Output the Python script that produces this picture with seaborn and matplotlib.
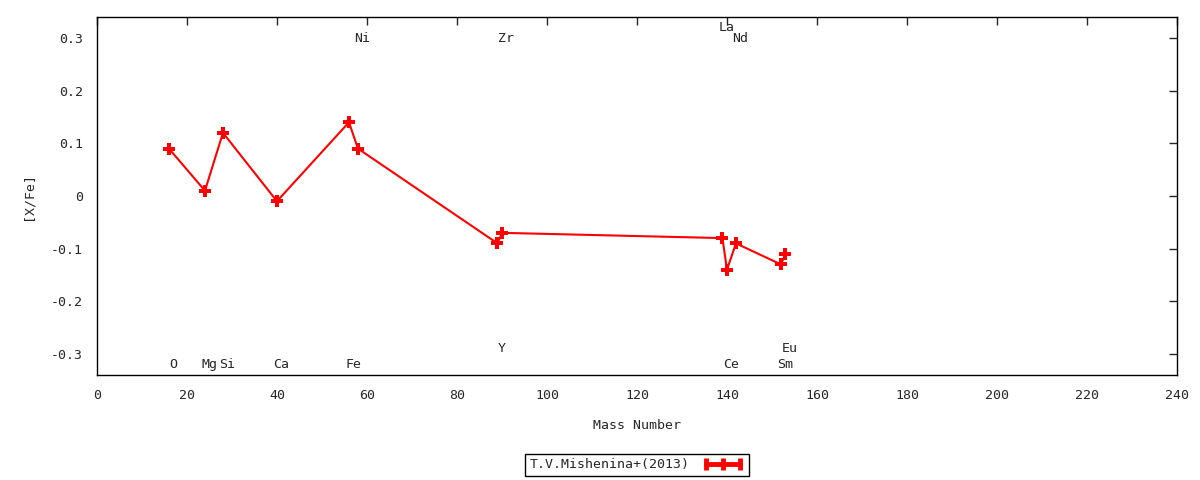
import matplotlib
matplotlib.use("Agg")
import matplotlib.pyplot as plt
from matplotlib.lines import Line2D
import seaborn as sns
import pandas as pd

# abundance data
elements = ["O", "Mg", "Si", "Ca", "Fe", "Ni", "Y", "Zr", "La", "Ce", "Nd", "Sm", "Eu"]
mass_number = [16, 24, 28, 40, 56, 58, 89, 90, 139, 140, 142, 152, 153]
x_fe = [0.09, 0.01, 0.12, -0.01, 0.14, 0.09, -0.09, -0.07, -0.08, -0.14, -0.09, -0.13, -0.11]
# where each element name sits (text height in [X/Fe])
label_y = [-0.32, -0.32, -0.32, -0.32, -0.32, 0.30, -0.29, 0.30, 0.32, -0.32, 0.30, -0.32, -0.29]
series_name = "T.V.Mishenina+(2013)"

df = pd.DataFrame({"A": mass_number, "XFe": x_fe})

sns.set_style("white")
plt.rcParams["font.family"] = ["DejaVu Sans Mono", "DejaVu Sans"]
plt.rcParams["font.size"] = 9.5

fig = plt.figure(figsize=(12, 4.8), dpi=100)
ax = fig.add_axes([0.0808, 0.2188, 0.9, 0.7458])

sns.lineplot(data=df, x="A", y="XFe", ax=ax, color="red", lw=1.5, marker="P",
             markersize=9, markeredgewidth=0, estimator=None, sort=False,
             legend=False)

for el, a, ly in zip(elements, mass_number, label_y):
    ax.text(a + 1, ly, el, ha="center", va="center", fontsize=9.5)

ax.set_xlim(0, 240)
ax.set_ylim(-0.34, 0.34)
ax.set_xticks(range(0, 241, 20))
ax.set_yticks([0.3, 0.2, 0.1, 0, -0.1, -0.2, -0.3])
ax.set_yticklabels(["0.3", "0.2", "0.1", "0", "-0.1", "-0.2", "-0.3"])
ax.tick_params(direction="in", length=6, width=1, top=True, right=True,
               labeltop=False, labelright=False, labelsize=9.5)
ax.tick_params(axis="x", pad=10)
ax.tick_params(axis="y", pad=10)
for s in ax.spines.values():
    s.set_color("black")
    s.set_linewidth(1)
ax.set_xlabel("Mass Number", labelpad=12)
ax.set_ylabel("[X/Fe]", labelpad=12)

handle = Line2D([], [], color="red", lw=3.5, marker="|", markersize=9, markeredgewidth=3.5)
leg = ax.legend([handle], [series_name], loc="upper center", bbox_to_anchor=(0.5, -0.22),
                markerfirst=False, numpoints=3, handlelength=3.2, handletextpad=0.9,
                fancybox=False, framealpha=1, edgecolor="black", borderpad=0.35,
                borderaxespad=0, fontsize=9.5)
leg.get_frame().set_linewidth(1)

fig.savefig("out.png", dpi=100)
